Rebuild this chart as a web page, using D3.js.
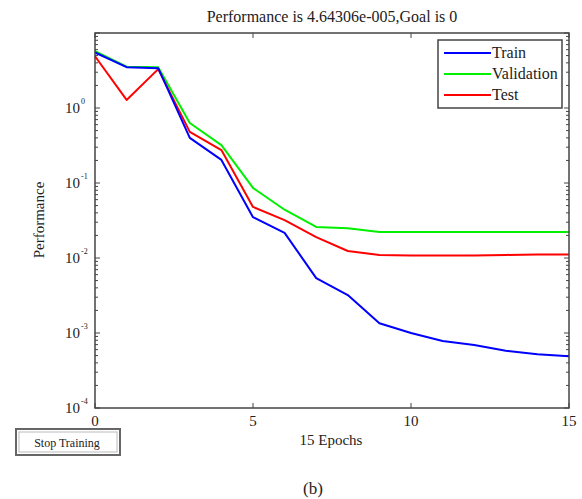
<!DOCTYPE html>
<html>
<head>
<meta charset="utf-8">
<script src="https://cdn.jsdelivr.net/npm/d3@7"></script>
<style>
  html, body { margin: 0; padding: 0; background: #fff; }
  svg { display: block; }
  svg text { font-family: "Liberation Serif", "Times New Roman", serif; fill: #222; }
</style>
</head>
<body>
<svg id="chart" width="582" height="499"></svg>
<script>
const epochs = [0,1,2,3,4,5,6,7,8,9,10,11,12,13,14,15];
const train = [5.5, 3.5, 3.4, 0.40, 0.203, 0.035, 0.0216, 0.0054, 0.0032, 0.00135, 0.00100, 0.00078, 0.00069, 0.00058, 0.00052, 0.00049];
const validation = [5.75, 3.55, 3.5, 0.63, 0.32, 0.086, 0.044, 0.026, 0.025, 0.0222, 0.0222, 0.0222, 0.0222, 0.0222, 0.0222, 0.0222];
const test = [4.9, 1.28, 3.3, 0.48, 0.275, 0.048, 0.032, 0.019, 0.0124, 0.0110, 0.0108, 0.0108, 0.0108, 0.0110, 0.0111, 0.0111];
const seriesNames = ["Train", "Validation", "Test"];
const seriesColors = ["#0000ff", "#00f000", "#ff0000"];
const xTicks = [0, 5, 10, 15];
const yTicks = [1e-4, 1e-3, 1e-2, 1e-1, 1e0];
const yExponents = ["-4", "-3", "-2", "-1", "0"];
const titleText = "Performance is 4.64306e-005,Goal is 0";
const xLabel = "15 Epochs";
const yLabel = "Performance";
const buttonLabel = "Stop Training";
const caption = "(b)";

const svg = d3.select("#chart");
const L = 95, R = 569, T = 33, B = 408;
const x = d3.scaleLinear().domain([0, 15]).range([L, R]);
const y = d3.scaleLog().domain([1e-4, 1e1]).range([B, T]);
const axisColor = "#444";

// minor ticks
const minor = [];
for (let e = -4; e < 1; e++) for (let m = 2; m <= 9; m++) minor.push(m * Math.pow(10, e));
const g = svg.append("g");
g.selectAll(".ml").data(minor).join("line")
  .attr("x1", L).attr("x2", L + 3).attr("y1", d => y(d)).attr("y2", d => y(d))
  .attr("stroke", axisColor).attr("stroke-width", 1);
g.selectAll(".mr").data(minor).join("line")
  .attr("x1", R).attr("x2", R - 3).attr("y1", d => y(d)).attr("y2", d => y(d))
  .attr("stroke", axisColor).attr("stroke-width", 1);
g.selectAll(".Ml").data(yTicks.concat([1e1])).join("line")
  .attr("x1", L).attr("x2", L + 5).attr("y1", d => y(d)).attr("y2", d => y(d))
  .attr("stroke", axisColor).attr("stroke-width", 1);
g.selectAll(".Mr").data(yTicks.concat([1e1])).join("line")
  .attr("x1", R).attr("x2", R - 5).attr("y1", d => y(d)).attr("y2", d => y(d))
  .attr("stroke", axisColor).attr("stroke-width", 1);
g.selectAll(".xb").data(xTicks).join("line")
  .attr("x1", d => x(d)).attr("x2", d => x(d)).attr("y1", B).attr("y2", B - 5)
  .attr("stroke", axisColor).attr("stroke-width", 1);
g.selectAll(".xt").data(xTicks).join("line")
  .attr("x1", d => x(d)).attr("x2", d => x(d)).attr("y1", T).attr("y2", T + 5)
  .attr("stroke", axisColor).attr("stroke-width", 1);

// lines
const allSeries = [train, validation, test];
const line = d3.line().x((d, i) => x(epochs[i])).y(d => y(d));
[1, 2, 0].forEach(k => {
  svg.append("path").datum(allSeries[k])
    .attr("d", line).attr("fill", "none")
    .attr("stroke", seriesColors[k]).attr("stroke-width", 2)
    .attr("stroke-linejoin", "round");
});

// frame
svg.append("rect").attr("x", L).attr("y", T).attr("width", R - L).attr("height", B - T)
  .attr("fill", "none").attr("stroke", axisColor).attr("stroke-width", 1.5);

// x tick labels
svg.selectAll(".xl").data(xTicks).join("text")
  .attr("x", d => x(d)).attr("y", B + 18).attr("text-anchor", "middle")
  .attr("font-size", 15).text(d => d);

// y tick labels with superscript
yTicks.forEach((v, i) => {
  svg.append("text").attr("x", 80).attr("y", y(v) + 5)
    .attr("text-anchor", "end").attr("font-size", 15).text("10");
  svg.append("text").attr("x", 81).attr("y", y(v) - 4)
    .attr("text-anchor", "start").attr("font-size", 8).text(yExponents[i]);
});

// title
svg.append("text").attr("x", 332).attr("y", 22).attr("text-anchor", "middle")
  .attr("font-size", 16).text(titleText);
// axis labels
svg.append("text").attr("x", 331).attr("y", 445).attr("text-anchor", "middle")
  .attr("font-size", 15).text(xLabel);
svg.append("text").attr("transform", "translate(44,220) rotate(-90)")
  .attr("text-anchor", "middle").attr("font-size", 15).text(yLabel);

// legend
const lg = svg.append("g");
lg.append("rect").attr("x", 438).attr("y", 40).attr("width", 124).attr("height", 68)
  .attr("fill", "#fff").attr("stroke", axisColor).attr("stroke-width", 1.5);
seriesNames.forEach((n, i) => {
  const yy = 53 + i * 21;
  lg.append("line").attr("x1", 444).attr("x2", 491).attr("y1", yy).attr("y2", yy)
    .attr("stroke", seriesColors[i]).attr("stroke-width", 2);
  lg.append("text").attr("x", 492).attr("y", yy + 5).attr("font-size", 16).text(n);
});

// stop training button
const bt = svg.append("g");
bt.append("rect").attr("x", 16).attr("y", 429).attr("width", 104).attr("height", 26)
  .attr("fill", "#fff").attr("stroke", "#666").attr("stroke-width", 2);
bt.append("rect").attr("x", 19).attr("y", 432).attr("width", 98).attr("height", 20)
  .attr("fill", "none").attr("stroke", "#bbb").attr("stroke-width", 1);
bt.append("text").attr("x", 67).attr("y", 447).attr("text-anchor", "middle")
  .attr("font-size", 12).text(buttonLabel);

// caption
svg.append("text").attr("x", 313).attr("y", 494).attr("text-anchor", "middle")
  .attr("font-size", 17).text(caption);
</script>
</body>
</html>
